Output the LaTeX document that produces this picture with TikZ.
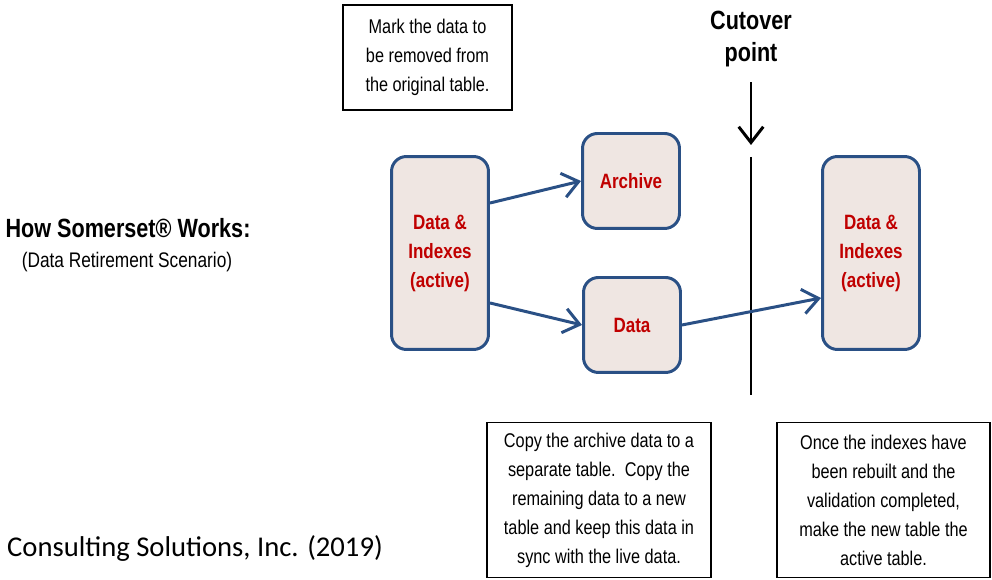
\documentclass[tikz,border=0pt]{standalone}
\usepackage{fontspec}
\usetikzlibrary{arrows.meta}
\setmainfont{Liberation Sans}
\newfontfamily\narrowsf[FakeStretch=0.82]{Liberation Sans}
\newfontfamily\calibsf{Carlito}
\definecolor{boxfill}{HTML}{EFE6E2}
\definecolor{boxedge}{HTML}{2A5085}
\definecolor{boxtext}{HTML}{C00000}

\tikzset{
  store/.style={draw=boxedge, line width=1.7pt, fill=boxfill, rounded corners=8.5pt,
    minimum width=1.94cm, align=center, text=boxtext,
    font=\narrowsf\bfseries\fontsize{11.8}{16.5}\selectfont},
  tallstore/.style={store, minimum height=3.86cm},
  shortstore/.style={store, minimum height=1.9cm},
  note/.style={draw, line width=0.6pt, align=center, inner sep=0pt,
    font=\narrowsf\fontsize{11.3}{16.5}\selectfont},
  flow/.style={draw=boxedge, line width=1.7pt, -{Straight Barb[length=9pt,width=14pt]}},
}

\begin{document}
\begin{tikzpicture}[x=0.02cm, y=-0.02cm]
\useasboundingbox (0,0) rectangle (992,580);

% title on the left
\node[font=\narrowsf\bfseries\fontsize{15}{18}\selectfont] (title) at (128,228) {How Somerset® Works:};
\node[font=\narrowsf\fontsize{12}{14}\selectfont] (subtitle) at (127,262) {(Data Retirement Scenario)};
\node[anchor=west, font=\calibsf\fontsize{16.3}{20}\selectfont] (credit) at (1,548) {Consulting Solutions, Inc. (2019)};

% the tables
\node[tallstore] (src) at (440,253) {Data \&\\Indexes\\(active)};
\node[shortstore] (arch) at (631,181) {Archive};
\node[shortstore] (copy) at (632,325) {Data};
\node[tallstore] (dst) at (871,253) {Data \&\\Indexes\\(active)};

% cutover
\node[align=center, font=\narrowsf\bfseries\fontsize{15}{18.7}\selectfont] (cut) at (751,39) {Cutover\\point};
\coordinate (cuttip) at (751,145);
\coordinate (linetop) at (751,157);
\coordinate (linebot) at (751,395);
\draw[line width=1.7pt, shorten <=5pt, -{Straight Barb[length=9pt,width=14pt]}] (cut.south) -- (cuttip);
\draw[line width=1.7pt] (linetop) -- (linebot);

\draw[flow] (src.45) -- (arch.west);
\draw[flow] (src.-45) -- (copy.west);
\draw[flow] (copy.east) -- (dst.-138);

% notes
\node[note, minimum width=3.38cm, minimum height=2.1cm] (mark) at (427.5,57.5)
  {Mark the data to\\be removed from\\the original table.};
\node[note, minimum width=4.48cm, minimum height=3.1cm] (copynote) at (599,500)
  {Copy the archive data to a\\separate table.\ \ Copy the\\remaining data to a new\\table and keep this data in\\sync with the live data.};
\node[note, minimum width=4.26cm, minimum height=3.1cm] (swapnote) at (883.5,500)
  {Once the indexes have\\been rebuilt and the\\validation completed,\\make the new table the\\active table.};
\end{tikzpicture}
\end{document}
